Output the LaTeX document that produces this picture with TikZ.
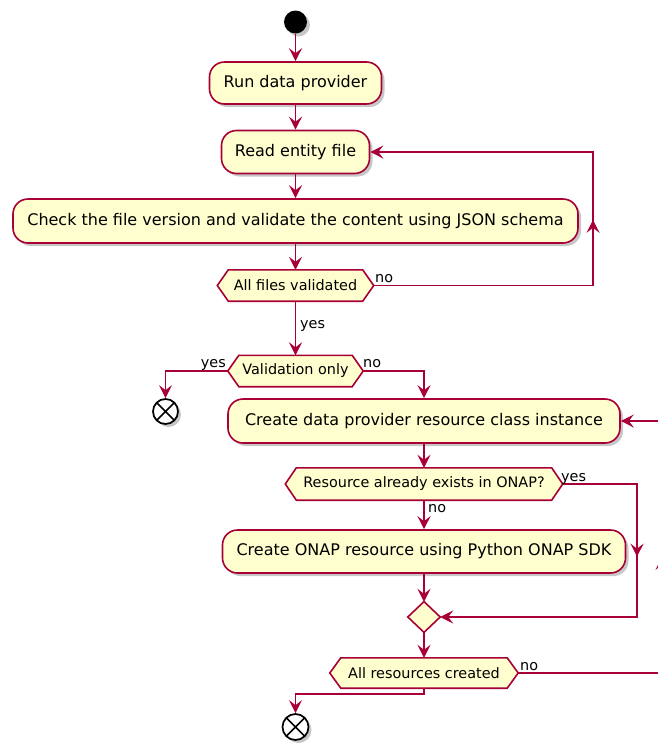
\documentclass[tikz,border=0pt]{standalone}
\usepackage{fontspec}
\setmainfont{DejaVu Sans}
\usetikzlibrary{arrows.meta,shadows,calc,decorations.markings}
\definecolor{pborder}{HTML}{A80036}
\definecolor{pfill}{HTML}{FEFECE}
\pgfdeclarelayer{bg}
\pgfsetlayers{bg,main}
\tikzset{
  shad/.style={drop shadow={shadow xshift=3pt,shadow yshift=-3pt,fill=black,opacity=0.22}},
  act/.style={rectangle,rounded corners=15pt,draw=pborder,fill=pfill,line width=1.6pt,
    inner sep=0pt,font=\fontsize{16}{19}\selectfont,shad},
  hexbox/.style={rectangle,inner sep=0pt,font=\fontsize{14.4}{16}\selectfont},
  lbl/.style={inner sep=0pt,font=\fontsize{14.4}{16}\selectfont},
  ptip/.tip={Stealth[length=13pt,width=13pt,inset=5pt]},
  flow/.style={draw=pborder,line width=1.6pt,-ptip},
  line/.style={draw=pborder,line width=1.6pt},
  startnode/.style={circle,fill=black,minimum size=23pt,inner sep=0pt,shad},
  endnode/.style={circle,draw=black,line width=1.7pt,fill=white,minimum size=25pt,inner sep=0pt,shad,
    path picture={\draw[line width=1.7pt] (path picture bounding box.north west) -- (path picture bounding box.south east)
      (path picture bounding box.north east) -- (path picture bounding box.south west);}},
  midarrow/.style={postaction={decorate,decoration={markings,mark=at position #1 with {\arrow{ptip}}}}}
}
\newcommand\hexdraw[2]{%
  \begin{pgfonlayer}{bg}
  \fill[black,opacity=0.22,shift={(3pt,-3pt)}] (#1.west) -- ([xshift=#2]#1.north west) -- ([xshift=-#2]#1.north east) -- (#1.east) -- ([xshift=-#2]#1.south east) -- ([xshift=#2]#1.south west) -- cycle;
  \filldraw[draw=pborder,fill=pfill,line width=1.6pt,line join=miter] (#1.west) -- ([xshift=#2]#1.north west) -- ([xshift=-#2]#1.north east) -- (#1.east) -- ([xshift=-#2]#1.south east) -- ([xshift=#2]#1.south west) -- cycle;
  \end{pgfonlayer}}
\begin{document}
\begin{tikzpicture}[x=1pt,y=-1pt]
\clip (0,0) rectangle (658,745);
% nodes
\node[startnode] (start) at (295.5,22) {};
\node[act,minimum width=172pt,minimum height=42pt] (run) at (295.5,83) {Run data provider};
\node[act,minimum width=148pt,minimum height=43pt] (read) at (295.5,152) {Read entity file};
\node[act,minimum width=565pt,minimum height=44pt] (check) at (295.5,221) {Check the file version and validate the content using JSON schema};
\node[hexbox,minimum width=156pt,minimum height=31pt] (valid) at (295.5,285.5) {All files validated};
\hexdraw{valid}{11pt}
\node[hexbox,minimum width=135pt,minimum height=31pt] (vonly) at (295.5,371) {Validation only};
\hexdraw{vonly}{11pt}
\node[endnode] (end1) at (165.5,411.5) {};
\node[act,minimum width=392pt,minimum height=44pt] (create) at (424,421) {Create data provider resource class instance};
\node[hexbox,minimum width=277pt,minimum height=32pt] (res) at (424,484) {Resource already exists in ONAP?};
\hexdraw{res}{11pt}
\node[act,minimum width=403pt,minimum height=43pt] (onap) at (424,551.5) {Create ONAP resource using Python ONAP SDK};
\node[hexbox,minimum width=32pt,minimum height=30pt] (merge) at (424,617) {};
\hexdraw{merge}{16pt}
\node[hexbox,minimum width=188pt,minimum height=30pt] (allres) at (424,673) {All resources created};
\hexdraw{allres}{11pt}
\node[endnode,minimum size=26pt] (end2) at (295.5,727) {};
% helper coordinates
\coordinate (loopR) at (593,285.5);
\coordinate (loopT) at (593,152);
\coordinate (yesL) at (165.5,371);
\coordinate (noR) at (424,371);
\coordinate (resR) at (637,484);
\coordinate (resB) at (637,617);
\coordinate (allR) at (662,673);
\coordinate (allT) at (662,421);
\coordinate (botA) at (424,694);
\coordinate (botB) at (295.5,694);
% connectors
\draw[flow] (start) -- (run);
\draw[flow] (run) -- (read);
\draw[flow] (read) -- (check);
\draw[flow] (check) -- (valid);
\draw[flow,midarrow=285pt] (valid.east) -- (loopR) -- (loopT) -- (read.east);
\draw[flow] (valid) -- (vonly);
\draw[flow] (vonly.west) -- (yesL) -- (end1);
\draw[flow] (vonly.east) -- (noR) -- (create);
\draw[flow] (create) -- (res);
\draw[flow] (res) -- (onap);
\draw[flow,midarrow=147pt] (res.east) -- (resR) -- (resB) -- (merge.east);
\draw[flow] (onap) -- (merge);
\draw[flow] (merge) -- (allres);
\draw[flow,midarrow=260pt] (allres.east) -- (allR) -- (allT) -- (create.east);
\draw[flow] (allres.south) -- (botA) -- (botB) -- (end2);
% labels
\node[lbl,anchor=base west] at (375,282) {no};
\node[lbl,anchor=base west] at (300,328) {yes};
\node[lbl,anchor=base east] at (226,367) {yes};
\node[lbl,anchor=base west] at (363,367) {no};
\node[lbl,anchor=base west] at (561,481) {yes};
\node[lbl,anchor=base west] at (428,512) {no};
\node[lbl,anchor=base west] at (520,670) {no};
\end{tikzpicture}
\end{document}
